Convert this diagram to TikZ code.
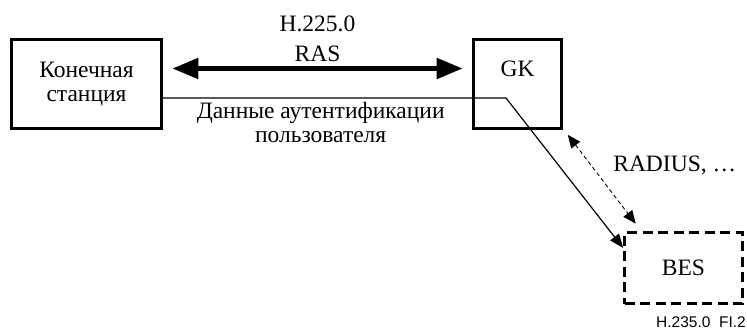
\documentclass[tikz,border=0pt]{standalone}
\usepackage{fontspec}
\setmainfont{Liberation Serif}
\newfontfamily\figsans{Liberation Sans}
\usetikzlibrary{arrows.meta}

\begin{document}
\begin{tikzpicture}[x=1pt,y=-1pt]
\tikzstyle{every node}=[font=\fontsize{23.5}{24}\selectfont]
\tikzstyle{box}=[draw,line width=2.6pt,inner sep=0pt,align=center]
\tikzstyle{dashbox}=[box,dash pattern=on 10pt off 5.5pt]
\useasboundingbox (0,0) rectangle (747,329);
% boxes
\node[box,minimum width=150pt,minimum height=89pt] (station) at (86.5,84) {Конечная\\станция};
\node[box,minimum width=88pt,minimum height=89pt,text height=16pt,text depth=30pt] (gk) at (517.5,84) {GK};
\node[dashbox,minimum width=118pt,minimum height=71pt] (bes) at (683.5,268) {BES};
% H.225.0 RAS
\draw[line width=5pt,{Triangle[length=26pt,width=20pt]}-{Triangle[length=26pt,width=20pt]}]
  ([shift={(9.5,-15.5)}]station.east) -- ([shift={(-9.5,-15.5)}]gk.west)
  node[midway,anchor=base,yshift=6.5pt,inner sep=0pt] (ras) {RAS};
\node[anchor=base,inner sep=0pt] (h225) at ([yshift=30pt]ras.base) {H.225.0};
% user authentication data
\coordinate (bend) at (506,98);
\draw[line width=1.2pt,-{Triangle[length=14pt,width=11pt]}] (station.east |- bend) -- (bend)
  node[pos=.46,below=0pt,align=center] (auth) {Данные аутентификации\\пользователя}
  -- ([yshift=20pt]bes.west);
% RADIUS
\draw[line width=0.9pt,dash pattern=on 4pt off 3pt,{Triangle[length=13pt,width=11pt]}-{Triangle[length=13pt,width=11pt]}]
  ([shift={(5,5)}]gk.south east) -- ([shift={(12.5,-7.5)}]bes.north west)
  node[pos=.35,anchor=west,xshift=18pt] (radius) {RADIUS, …};
\node[anchor=base east,inner sep=0pt,font=\figsans\fontsize{15.5}{17}\selectfont] (fig) at (746,327) {H.235.0\ \ FI.2};
\end{tikzpicture}
\end{document}
